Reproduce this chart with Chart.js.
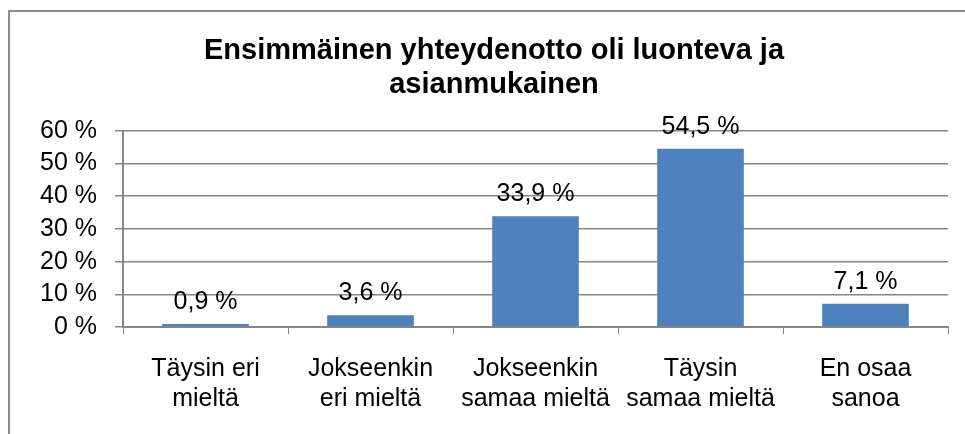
<!DOCTYPE html>
<html>
<head>
<meta charset="utf-8">
<script src="https://cdn.jsdelivr.net/npm/chart.js@4"></script>
<style>
  html, body { margin: 0; padding: 0; background: #fff; overflow: hidden; }
  #wrap { position: relative; width: 965px; height: 434px; }
  #frame { position: absolute; left: 8px; top: 10px; width: 1000px; height: 500px;
           border-top: 2px solid #8c8c8c; border-left: 2px solid #8c8c8c; box-sizing: border-box; }
  canvas { position: absolute; left: 0; top: 0; }
</style>
</head>
<body>
<div id="wrap">
  <div id="frame"></div>
  <canvas id="myChart" width="965" height="434"></canvas>
</div>
<script>
// chart data
const categories = [
  ['Täysin eri', 'mieltä'],
  ['Jokseenkin', 'eri mieltä'],
  ['Jokseenkin', 'samaa mieltä'],
  ['Täysin', 'samaa mieltä'],
  ['En osaa', 'sanoa']
];
const values = [0.9, 3.6, 33.9, 54.5, 7.1];
const titleLines = ['Ensimmäinen yhteydenotto oli luonteva ja', 'asianmukainen'];

const FONT = "'Liberation Sans', Arial, sans-serif";
const GRID = '#868686';

// value labels above bars
const barLabels = {
  id: 'barLabels',
  afterDatasetsDraw(chart) {
    const ctx = chart.ctx;
    const meta = chart.getDatasetMeta(0);
    ctx.save();
    ctx.font = '25px ' + FONT;
    ctx.fillStyle = '#000';
    ctx.textAlign = 'center';
    ctx.textBaseline = 'alphabetic';
    meta.data.forEach((bar, i) => {
      const txt = values[i].toFixed(1).replace('.', ',') + ' %';
      ctx.fillText(txt, bar.x, bar.y - 15);
    });
    ctx.restore();
  }
};

const data = {
  labels: categories,
  datasets: [{
    data: values,
    backgroundColor: '#4F81BD',
    borderWidth: 0,
    categoryPercentage: 1,
    barPercentage: 0.525
  }]
};

const config = {
  type: 'bar',
  data: data,
  plugins: [barLabels],
  options: {
    responsive: false,
    animation: false,
    layout: { padding: { left: 40, right: 17, top: 0, bottom: 0 } },
    plugins: {
      legend: { display: false },
      tooltip: { enabled: false },
      title: {
        display: true,
        text: titleLines,
        color: '#000',
        font: { family: FONT, size: 29, weight: 'bold', lineHeight: 1.17 },
        padding: { top: 34, bottom: 29 }
      }
    },
    scales: {
      x: {
        grid: { display: true, drawOnChartArea: false, drawTicks: true, tickLength: 7, color: GRID, offset: true },
        border: { display: true, color: GRID, width: 2 },
        ticks: {
          color: '#000',
          font: { family: FONT, size: 25, lineHeight: 1.2 },
          padding: 20,
          maxRotation: 0,
          autoSkip: false
        }
      },
      y: {
        min: 0,
        max: 60,
        afterFit: s => { s.width = 83; },
        grid: { color: GRID, lineWidth: 1.5, tickLength: 8 },
        border: { display: true, color: GRID, width: 2 },
        ticks: {
          stepSize: 10,
          autoSkip: false,
          color: '#000',
          font: { family: FONT, size: 25 },
          padding: 18,
          callback: v => v + ' %'
        }
      }
    }
  }
};

const myChart = new Chart(document.getElementById('myChart'), config);
</script>
</body>
</html>
